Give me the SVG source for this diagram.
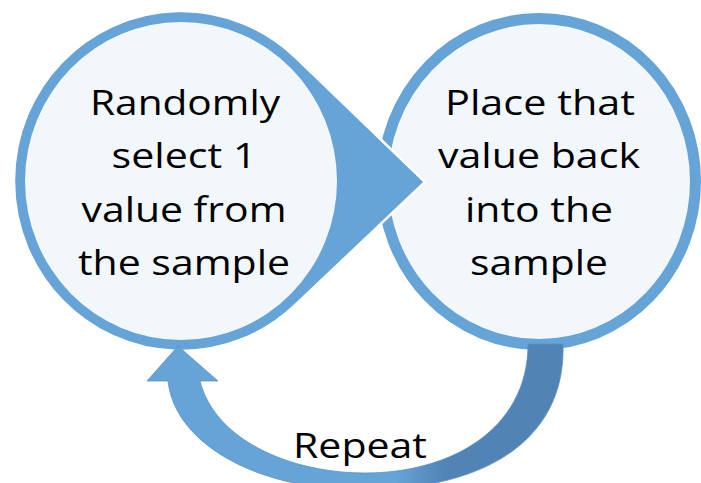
<svg xmlns="http://www.w3.org/2000/svg" width="701" height="483" viewBox="0 0 701 483">
  <style>
    .ring { fill: #F2F7FC; stroke: #66A3D7; stroke-width: 11; }
    .blue { fill: #66A3D7; }
    .inner { fill: #F2F7FC; }
    .lbl { font-family: "Open Sans", "Liberation Sans", sans-serif; font-size: 35px; fill: #000000; text-anchor: middle; }
  </style>
  <defs>
    <linearGradient id="arrowGrad" gradientUnits="userSpaceOnUse" x1="395" y1="0" x2="445" y2="0">
      <stop offset="0" stop-color="#66A3D7"/>
      <stop offset="1" stop-color="#5283B5"/>
    </linearGradient>
  </defs>
  <rect width="701" height="483" fill="#FFFFFF"/>

  <g id="node-place">
    <ellipse class="ring" cx="539" cy="181.5" rx="156.5" ry="163"/>
    <text class="lbl" x="540" y="115" textLength="190" lengthAdjust="spacingAndGlyphs">Place that</text>
    <text class="lbl" x="539" y="168" textLength="202" lengthAdjust="spacingAndGlyphs">value back</text>
    <text class="lbl" x="539" y="222" textLength="148" lengthAdjust="spacingAndGlyphs">into the</text>
    <text class="lbl" x="539" y="275" textLength="138" lengthAdjust="spacingAndGlyphs">sample</text>
  </g>

  <g id="node-select">
    <path class="blue" stroke="#FFFFFF" stroke-width="2.5" stroke-linejoin="miter"
          d="M 295.3 57.1 L 425 182 L 295.3 304.9 A 167 170 0 1 1 295.3 57.1 Z"/>
    <ellipse class="inner" cx="181" cy="181" rx="156" ry="159"/>
    <text class="lbl" x="185" y="115" textLength="190" lengthAdjust="spacingAndGlyphs">Randomly</text>
    <text class="lbl" x="184" y="168" textLength="145" lengthAdjust="spacingAndGlyphs">select 1</text>
    <text class="lbl" x="184" y="222" textLength="205" lengthAdjust="spacingAndGlyphs">value from</text>
    <text class="lbl" x="184" y="275" textLength="212" lengthAdjust="spacingAndGlyphs">the sample</text>
  </g>

  <g id="connectors">
    <path id="repeat-arrow" fill="url(#arrowGrad)" stroke="#5A94C9" stroke-width="0.8" stroke-linejoin="miter"
          d="M 563 344 C 566 430, 500 487, 370 490 C 260 492, 175 445, 168 381 L 147 381 L 178 346 L 218 381 L 200 381 C 215 440, 290 473, 365 473 C 450 473, 528 430, 528 344 Z"/>
    <text class="lbl" x="360" y="458" textLength="134" lengthAdjust="spacingAndGlyphs">Repeat</text>
  </g>
</svg>
